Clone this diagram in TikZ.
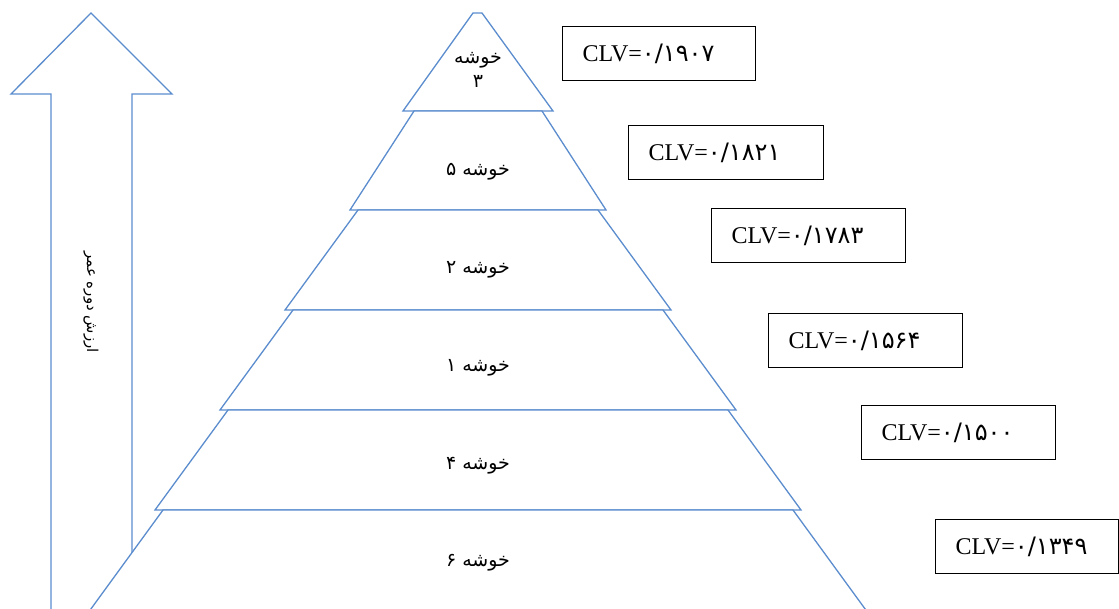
\documentclass[tikz,border=0pt]{standalone}
\usepackage{fontspec}
\setmainfont{Liberation Serif}
\newfontfamily\arabicfont[Script=Arabic]{DejaVu Sans}
\TeXXeTstate=1
\definecolor{pyr}{RGB}{91,141,206}
\begin{document}
\begin{tikzpicture}[x=1pt,y=-1pt,
  shp/.style={draw=pyr,line width=1.3pt,fill=white,line join=miter},
  lbl/.style={font=\arabicfont\fontsize{19}{24}\selectfont,inner sep=0pt,align=center},
  clv/.style={draw=black,line width=1.1pt,anchor=north west,minimum height=54pt,
    inner xsep=20pt,align=left,font=\fontsize{24}{28}\selectfont}
]
\useasboundingbox (0,0) rectangle (1119,608);
\clip (0,0) rectangle (1119,608);
% arrow
\draw[shp] (51,700) -- (51,94) -- (11,94) -- (91,13) -- (172,94) -- (132,94) -- (132,700);
\node[lbl,font=\arabicfont\fontsize{15}{20}\selectfont,rotate=-90] (ax) at (91,302) {\beginR ارزش دوره عمر\endR};
% pyramid
\draw[shp] (403,111) -- (473,13) -- (482,13) -- (553,111) -- cycle;
\draw[shp] (414,111) -- (542,111) -- (606,210) -- (350,210) -- cycle;
\draw[shp] (358,210) -- (598,210) -- (671,310) -- (285,310) -- cycle;
\draw[shp] (293,310) -- (663,310) -- (736,410) -- (220,410) -- cycle;
\draw[shp] (228,410) -- (728,410) -- (801,510) -- (155,510) -- cycle;
\draw[shp] (163,510) -- (793,510) -- (895,650) -- (61,650) -- cycle;
% labels
\node[lbl] (l3) at (478,70) {\beginR خوشه\endR\\\beginR ۳\endR};
\node[lbl] (l5) at (478,172) {\beginR خوشه ۵\endR};
\node[lbl] (l2) at (478,270) {\beginR خوشه ۲\endR};
\node[lbl] (l1) at (478,368) {\beginR خوشه ۱\endR};
\node[lbl] (l4) at (478,466) {\beginR خوشه ۴\endR};
\node[lbl] (l6) at (478,563) {\beginR خوشه ۶\endR};
% CLV boxes
\node[clv,text width=153pt] (c1) at (562,26) {CLV={\arabicfont ۰/۱۹۰۷}};
\node[clv,text width=155pt] (c2) at (628,125) {CLV={\arabicfont ۰/۱۸۲۱}};
\node[clv,text width=154pt] (c3) at (711,208) {CLV={\arabicfont ۰/۱۷۸۳}};
\node[clv,text width=154pt] (c4) at (768,313) {CLV={\arabicfont ۰/۱۵۶۴}};
\node[clv,text width=154pt] (c5) at (861,405) {CLV={\arabicfont ۰/۱۵۰۰}};
\node[clv,text width=143pt] (c6) at (935,519) {CLV={\arabicfont ۰/۱۳۴۹}};
\end{tikzpicture}
\end{document}
